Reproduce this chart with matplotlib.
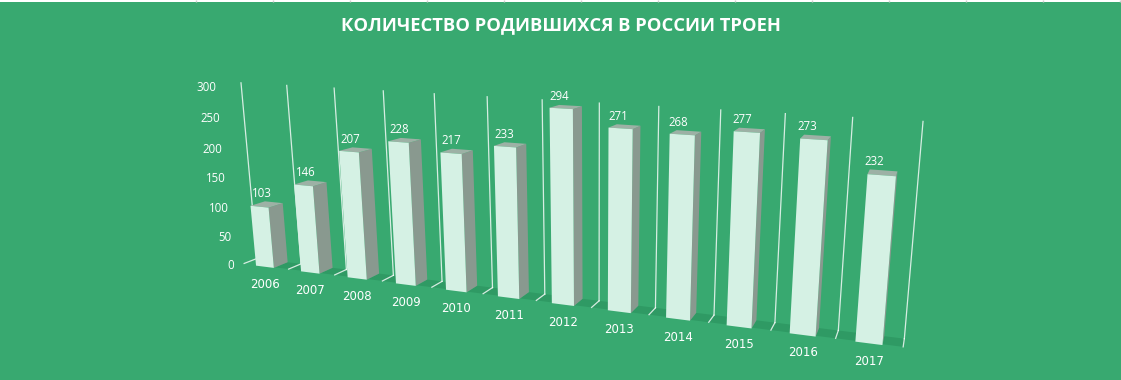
import numpy as np
import matplotlib
matplotlib.use("Agg")
import matplotlib.pyplot as plt

years = ["2006", "2007", "2008", "2009", "2010", "2011", "2012", "2013", "2014", "2015", "2016", "2017"]
births = [103, 146, 207, 228, 217, 233, 294, 271, 268, 277, 273, 232]
y_ticks = [0, 50, 100, 150, 200, 250, 300]
title = "КОЛИЧЕСТВО РОДИВШИХСЯ В РОССИИ ТРОЕН"

BG = "#38A970"
FRONT = "#D5F1E4"
SIDE = "#89998F"
TOP = "#9DB1A5"
SHADOW = "#2F9A64"

# where the back wall lines sit in the picture, to fit the perspective of the excel 3d chart
wall_top = [(0, 241, 83), (1, 287, 85.7), (2, 334, 88), (3, 383, 91), (4, 434, 94), (5, 487.3, 96.7),
            (6, 542.3, 100), (7, 599.3, 103), (8, 659, 106), (9, 720.7, 110), (10, 785.3, 113),
            (11, 852.7, 117), (12, 923, 122)]
wall_base = [(0, 257, 259), (1, 300.7, 263.3), (5, 492.7, 287), (6, 545, 295), (7, 599.3, 300.7),
             (8, 655.7, 307), (9, 714, 315), (10, 775, 321.7), (11, 838, 330), (12, 904, 341)]
vanish = (955, -12)
depth_k = 0.0182


def wall_matrix():
    A = []
    for y, pts in ((300, wall_top), (0, wall_base)):
        for x, u, v in pts:
            A.append([x, y, 1, 0, 0, 0, -u * x, -u * y, -u])
            A.append([0, 0, 0, x, y, 1, -v * x, -v * y, -v])
    A = np.array(A, float)
    # scale columns a bit, x and y are very different from pixels
    scale = np.array([50, 1, 500, 50, 1, 500, 0.1, 0.002, 1.0])
    h = np.linalg.svd(A * scale)[2][-1] * scale
    return h.reshape(3, 3) / h[8]


H = wall_matrix()


def proj(x, y, z=0):
    # z = 0 is the back wall, z = -1 the front of the floor
    px, py, w = H @ np.array([x, y, 1.0])
    px += depth_k * z * vanish[0]
    py += depth_k * z * vanish[1]
    w += depth_k * z
    return px / w, py / w


def face(ax, pts, color, zorder):
    xy = np.array([proj(*p) for p in pts])
    ax.fill(xy[:, 0], xy[:, 1], color=color, lw=0, zorder=zorder)


fig = plt.figure(figsize=(11.21, 3.80), dpi=100, facecolor=BG)
ax = fig.add_axes([0, 0, 1, 1])
ax.set_xlim(0, 1121)
ax.set_ylim(380, 0)
ax.axis("off")

# sheet edge showing above the chart
ax.axhspan(0, 2, color="white", lw=0, zorder=1)
ax.vlines(np.arange(196, 1121, 77), 0, 2, color="#CFCFCF", lw=1, zorder=1)

z0, z1 = -1.1, 0.0
bar_l, bar_r = 0.3, 0.7

for i, (year, val) in enumerate(zip(years, births)):
    l = i + bar_l
    r = i + bar_r
    # floor shadow up to the next bar
    if i < len(years) - 1:
        end = r + 1 - (bar_r - bar_l)
    else:
        end = len(years)
    face(ax, [(r, 0, -1), (end, 0, -1), (end, 0, z1), (r, 0, z1)], SHADOW, 2)
    face(ax, [(r, 0, z0), (r, 0, z1), (r, val, z1), (r, val, z0)], SIDE, 4 + i)
    face(ax, [(l, val, z0), (r, val, z0), (r, val, z1), (l, val, z1)], TOP, 4 + i)
    face(ax, [(l, 0, z0), (r, 0, z0), (r, val, z0), (l, val, z0)], FRONT, 4 + i)

    ax.annotate(str(val), proj(i + 0.38, val, -0.5), xytext=(0, 7.2), textcoords="offset points",
                ha="center", va="center", color="white", fontsize=8.3, family="Open Sans", zorder=30)
    mx, my = proj(i + 0.5, 0, z0)
    ax.annotate(year, (mx, my), xytext=(0, -12.9), textcoords="offset points",
                ha="center", va="center", color="white", fontsize=8.5, family="DejaVu Sans", zorder=30)

# walls and ticks
for i in range(len(years) + 1):
    a = proj(i, 0)
    b = proj(i, 300)
    c = proj(i, 0, -1)
    ax.plot([a[0], b[0]], [a[1], b[1]], color="white", lw=0.9, alpha=0.8, zorder=3)
    ax.plot([a[0], c[0]], [a[1], c[1]], color="white", lw=0.9, alpha=0.8, zorder=3)

for t in y_ticks:
    ax.annotate(str(t), proj(-0.2, t, -1), xytext=(-1, -2.6), textcoords="offset points",
                ha="right", va="center", color="white", fontsize=8.3, family="Open Sans", zorder=30)

ax.text(560.5, 25, title, ha="center", va="center", color="white", fontsize=13.2,
        family="Open Sans", fontweight="bold", zorder=30)

fig.savefig("out.png", dpi=100, facecolor=BG)
